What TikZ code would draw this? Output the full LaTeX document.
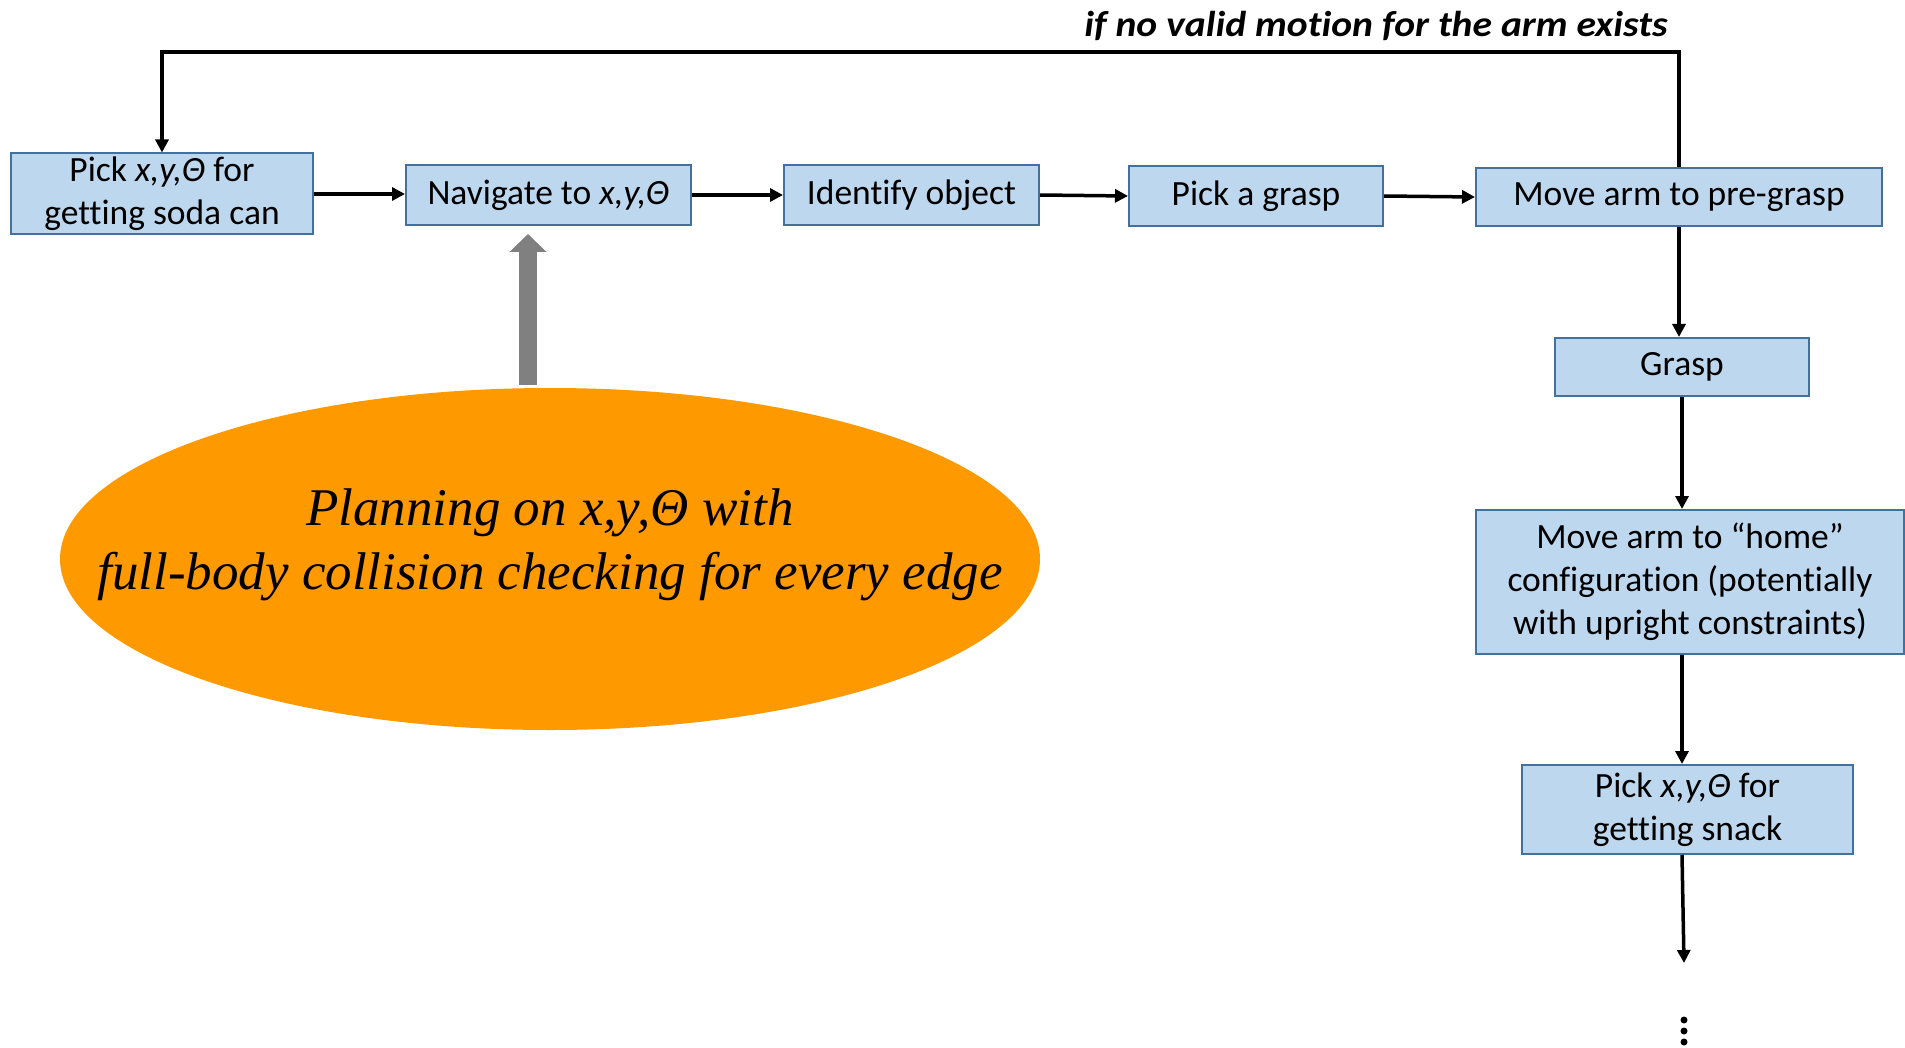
\documentclass[tikz,border=0pt]{standalone}
\usepackage{fontspec}
\setmainfont{Carlito}[Ligatures=NoCommon]
\newfontfamily\tnr{Liberation Serif}
\usetikzlibrary{arrows.meta,shapes.geometric}
\definecolor{boxfill}{HTML}{BDD7EE}
\definecolor{boxline}{HTML}{41719C}
\definecolor{orng}{HTML}{FF9900}
\definecolor{grayarr}{HTML}{808080}
\begin{document}
\begin{tikzpicture}[x=1pt,y=-1pt,
  box/.style={draw=boxline, line width=2pt, fill=boxfill, inner sep=0pt, align=center,
              font=\fontsize{35.5}{43}\selectfont},
  arr/.style={line width=3.5pt, -{Triangle[length=13pt,width=13pt]}}]
\useasboundingbox (0,0) rectangle (1905,1048);
% ellipse
\node[ellipse, fill=orng, minimum width=980pt, minimum height=342pt, inner sep=0pt] (ell) at (550,559) {};
\node[font=\tnr\itshape\fontsize{53}{64}\selectfont, align=center, inner sep=0pt] (elltext) at (550,545)
  {Planning on \textit{x,y,Θ} with\\full-body collision checking for every edge};
% boxes
\node[box, minimum width=302pt, minimum height=81pt] (p1) at (162,194) {Pick \textit{x,y,Θ} for\\getting soda can};
\node[box, minimum width=285pt, minimum height=60pt] (nav) at (548.5,195) {Navigate to \textit{x,y,Θ}};
\node[box, minimum width=255pt, minimum height=60pt] (ident) at (911.5,195) {Identify object};
\node[box, minimum width=254pt, minimum height=60pt] (pickg) at (1256,196) {Pick a grasp};
\node[box, minimum width=406pt, minimum height=58pt] (pre) at (1679,197) {Move arm to pre-grasp};
\node[box, minimum width=254pt, minimum height=58pt] (grasp) at (1682,367) {Grasp};
\node[box, minimum width=428pt, minimum height=144pt] (home) at (1690,582) {Move arm to “home”\\configuration (potentially\\with upright constraints)};
\node[box, minimum width=331pt, minimum height=89pt] (snack) at (1687.5,809.5) {Pick \textit{x,y,Θ} for\\getting snack};
% label
\node[font=\bfseries\itshape\fontsize{36}{36}\selectfont, inner sep=0pt] (lbl) at (1376,26) {\scalebox{1.1}[1]{if no valid motion for the arm exists}};
% connectors
\draw[arr] (p1.east) -- (nav.west |- p1.east);
\draw[arr] (nav.east) -- (ident.west);
\draw[arr] (ident.east) -- (pickg.west);
\draw[arr] (pickg.east) -- (pre.west);
\draw[arr] (pre.south) -- (pre.south |- grasp.north);
\draw[arr] (grasp.south) -- (grasp.south |- home.north);
\draw[arr] (grasp.south |- home.south) -- (grasp.south |- snack.north);
\coordinate (tl) at (162,52);
\draw[arr, line width=4.5pt] (pre.north) |- (tl) -- (p1.north);
\coordinate (send) at (1684,963);
\draw[arr] (grasp.south |- snack.south) -- (send);
% dots
\fill (1684,1020) circle (3.5pt) (1684,1031) circle (3.5pt) (1684,1042) circle (3.5pt);
% gray arrow
\coordinate (gb) at (528,385);
\coordinate (gt) at (528,234);
\draw[grayarr, line width=18pt, -{Triangle[length=18pt,width=36pt]}] (gb) -- (gt);
\end{tikzpicture}
\end{document}
